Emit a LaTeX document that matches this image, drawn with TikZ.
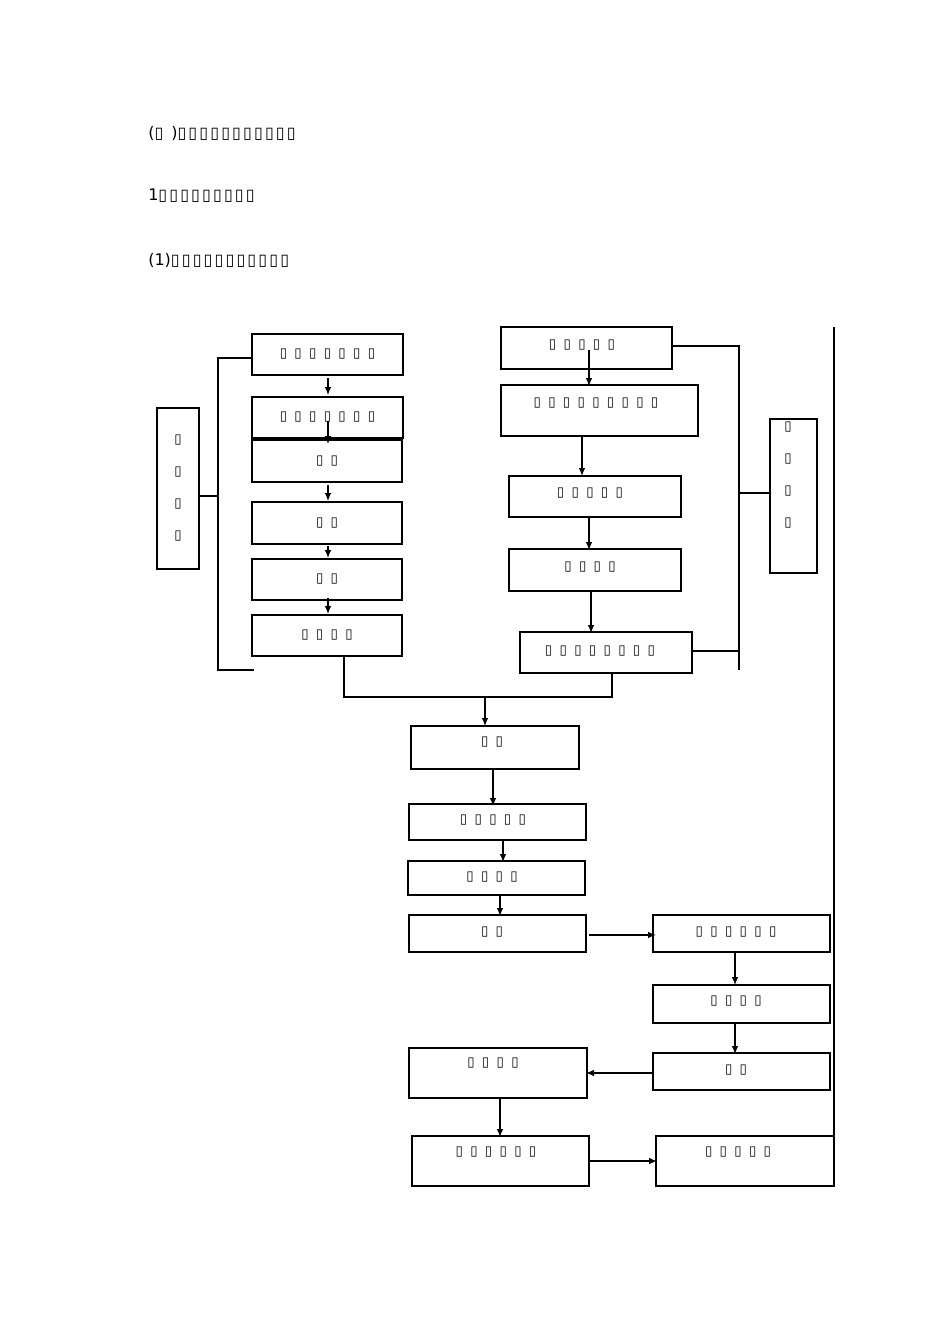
\documentclass[tikz,border=0pt]{standalone}
\usepackage{fontspec}
\setmainfont{DejaVu Sans}
\usetikzlibrary{arrows.meta}
\newcommand{\tb}[1]{\foreach \i in {1,...,#1}{\ifnum\i>1\hspace{5.5pt}\fi ▯}}
\newcommand{\hb}[1]{\foreach \i in {1,...,#1}{\ifnum\i>1\hspace{1.6pt}\fi ▯}}
\begin{document}
\begin{tikzpicture}[x=0.75pt,y=-0.75pt,
  bx/.style={draw,line width=0.9pt,inner sep=0},
  ln/.style={line width=0.9pt},
  ar/.style={ln,-{Latex[length=6pt,width=5pt]}},
  tx/.style={font=\fontsize{10}{10}\selectfont,inner sep=0},
  vt/.style={font=\fontsize{10}{10}\selectfont,inner sep=0,align=center}]
\useasboundingbox (0,0) rectangle (950,1344);
\node[anchor=west,inner sep=0,font=\fontsize{12}{12}\selectfont] (h1) at (148,133) {(▯\hspace{6pt})\hb{11}};
\node[anchor=west,inner sep=0,font=\fontsize{12}{12}\selectfont] (h2) at (148,196) {1\hb{9}};
\node[anchor=west,inner sep=0,font=\fontsize{12}{12}\selectfont] (h3) at (148,260) {(1)\hb{11}};
% left column
\draw[bx] (252,334) rectangle (403,375) node[tx,midway] (L1) {\tb{7}};
\draw[bx] (252,397) rectangle (403,438) node[tx,midway] (L2) {\tb{7}};
\draw[bx] (252,440) rectangle (402,482) node[tx,midway] (L3) {\tb{2}};
\draw[bx] (252,502) rectangle (402,544) node[tx,midway] (L4) {\tb{2}};
\draw[bx] (252,559) rectangle (402,600) node[tx,midway] (L5) {\tb{2}};
\draw[bx] (252,615) rectangle (402,656) node[tx,midway] (L6) {\tb{4}};
\draw[bx] (157,408) rectangle (199,569);
\node[vt] (LV) at (178,488) {▯\\[14pt]▯\\[14pt]▯\\[14pt]▯};
\coordinate (la) at (218,358); \coordinate (lb) at (218,670);
\draw[ln] (252,358) -- (la) -- (lb) -- (254,670);
\draw[ln] (199,496) -- (218,496);
\draw[ar] (328,378) -- (328,395);
\draw[ar] (328,421) -- (328,444);
\draw[ar] (328,485) -- (328,501);
\draw[ar] (328,546) -- (328,558);
\draw[ar] (328,598) -- (328,614);
% right column
\draw[bx] (501,327) rectangle (672,369); \node[tx] (R1) at (582,345) {\tb{5}};
\draw[bx] (501,385) rectangle (698,436); \node[tx] (R2) at (596,403) {\tb{9}};
\draw[bx] (509,476) rectangle (681,517); \node[tx] (R3) at (590,493) {\tb{5}};
\draw[bx] (509,549) rectangle (681,591); \node[tx] (R4) at (590,567) {\tb{4}};
\draw[bx] (520,632) rectangle (692,673); \node[tx] (R5) at (600,651) {\tb{8}};
\draw[bx] (770,419) rectangle (817,573);
\node[vt] (RV) at (788,475) {▯\\[14pt]▯\\[14pt]▯\\[14pt]▯};
\draw[ln] (672,346) -- (739,346) -- (739,670);
\draw[ln] (692,651) -- (739,651);
\draw[ln] (739,493) -- (770,493);
\draw[ar] (589,350) -- (589,386);
\draw[ar] (582,436) -- (582,476);
\draw[ar] (589,517) -- (589,550);
\draw[ar] (591,591) -- (591,633);
\draw[ln] (834,327) -- (834,1186);
% merge
\coordinate (m) at (485,697);
\draw[ln] (344,656) -- (344,697) -- (612,697) -- (612,673);
\draw[ar] (m) -- (485,726);
% center
\draw[bx] (411,726) rectangle (579,769); \node[tx] (C1) at (492,742) {\tb{2}};
\draw[bx] (409,804) rectangle (586,840); \node[tx] (C2) at (493,820) {\tb{5}};
\draw[bx] (408,861) rectangle (585,895); \node[tx] (C3) at (492,877) {\tb{4}};
\draw[bx] (409,915) rectangle (586,952); \node[tx] (C4) at (492,932) {\tb{2}};
\draw[ar] (493,769) -- (493,806);
\draw[ar] (503,840) -- (503,862);
\draw[ar] (500,895) -- (500,916);
\draw[bx] (653,915) rectangle (830,952); \node[tx] (D1) at (736,932) {\tb{6}};
\draw[bx] (653,985) rectangle (830,1023); \node[tx] (D2) at (736,1001) {\tb{4}};
\draw[bx] (653,1053) rectangle (830,1090); \node[tx] (D3) at (736,1070) {\tb{2}};
\draw[ar] (589,935) -- (656,935);
\draw[ar] (735,952) -- (735,985);
\draw[ar] (735,1023) -- (735,1054);
\draw[ar] (654,1073) -- (586,1073);
\draw[bx] (409,1048) rectangle (587,1098); \node[tx] (E1) at (493,1063) {\tb{4}};
\draw[bx] (412,1136) rectangle (589,1186); \node[tx] (E2) at (496,1152) {\tb{6}};
\draw[bx] (656,1136) rectangle (834,1186); \node[tx] (E3) at (738,1152) {\tb{5}};
\draw[ar] (500,1098) -- (500,1137);
\draw[ar] (589,1161) -- (657,1161);
\end{tikzpicture}
\end{document}
